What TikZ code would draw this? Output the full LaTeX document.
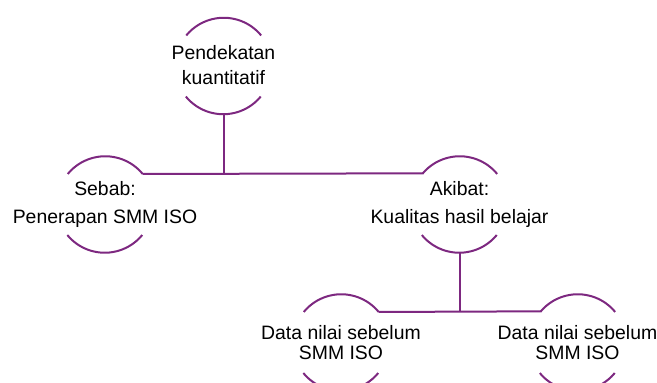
\documentclass[tikz,border=0pt]{standalone}
\usepackage{fontspec}
\setmainfont{Liberation Sans}
\definecolor{arcpurple}{RGB}{125,40,128}
\begin{document}
\begin{tikzpicture}[x=1pt,y=1pt,
  ring/.style={circle, minimum size=97pt, inner sep=0pt, outer sep=0pt},
  arcline/.style={draw=arcpurple, line width=2pt},
  conn/.style={draw=arcpurple, line width=2pt},
  lbl/.style={align=center, text=black}]
\useasboundingbox (0,0) rectangle (657,383);
% circles (invisible shapes)
\node[ring] (c0) at (223.5,317) {};
\node[ring] (c1) at (105,178.5) {};
\node[ring] (c2) at (459.5,178.5) {};
\node[ring] (c3) at (341,40.5) {};
\node[ring] (c4) at (577.5,40.5) {};
% arcs
\foreach \c in {c0,c1,c2,c3,c4}{
  \draw[arcline] (\c.39.4) arc[start angle=39.4, end angle=140.6, radius=48.5pt];
  \draw[arcline] (\c.219.4) arc[start angle=219.4, end angle=320.6, radius=48.5pt];
}
% labels
\node[lbl, font=\fontsize{19.4}{25}\selectfont] (t0) at ([yshift=1pt]c0.center) {Pendekatan\\kuantitatif};
\node[lbl, font=\fontsize{19.4}{28}\selectfont] (t1) at (c1.center) {Sebab:\\Penerapan SMM ISO};
\node[lbl, font=\fontsize{19.4}{28}\selectfont] (t2) at (c2.center) {Akibat:\\Kualitas hasil belajar};
\node[lbl, font=\fontsize{19.4}{20}\selectfont] (t3) at (c3.center) {Data nilai sebelum\\SMM ISO};
\node[lbl, font=\fontsize{19.4}{20}\selectfont] (t4) at (c4.center) {Data nilai sebelum\\SMM ISO};
% connectors
\draw[conn] (c1.39.4) -- (c2.140.6);
\draw[conn] (c0.south) -- (c0.south |- c1.39.4);
\draw[conn] (c3.39.4) -- (c4.140.6);
\draw[conn] (c2.south) -- (c2.south |- c3.39.4);
\end{tikzpicture}
\end{document}
